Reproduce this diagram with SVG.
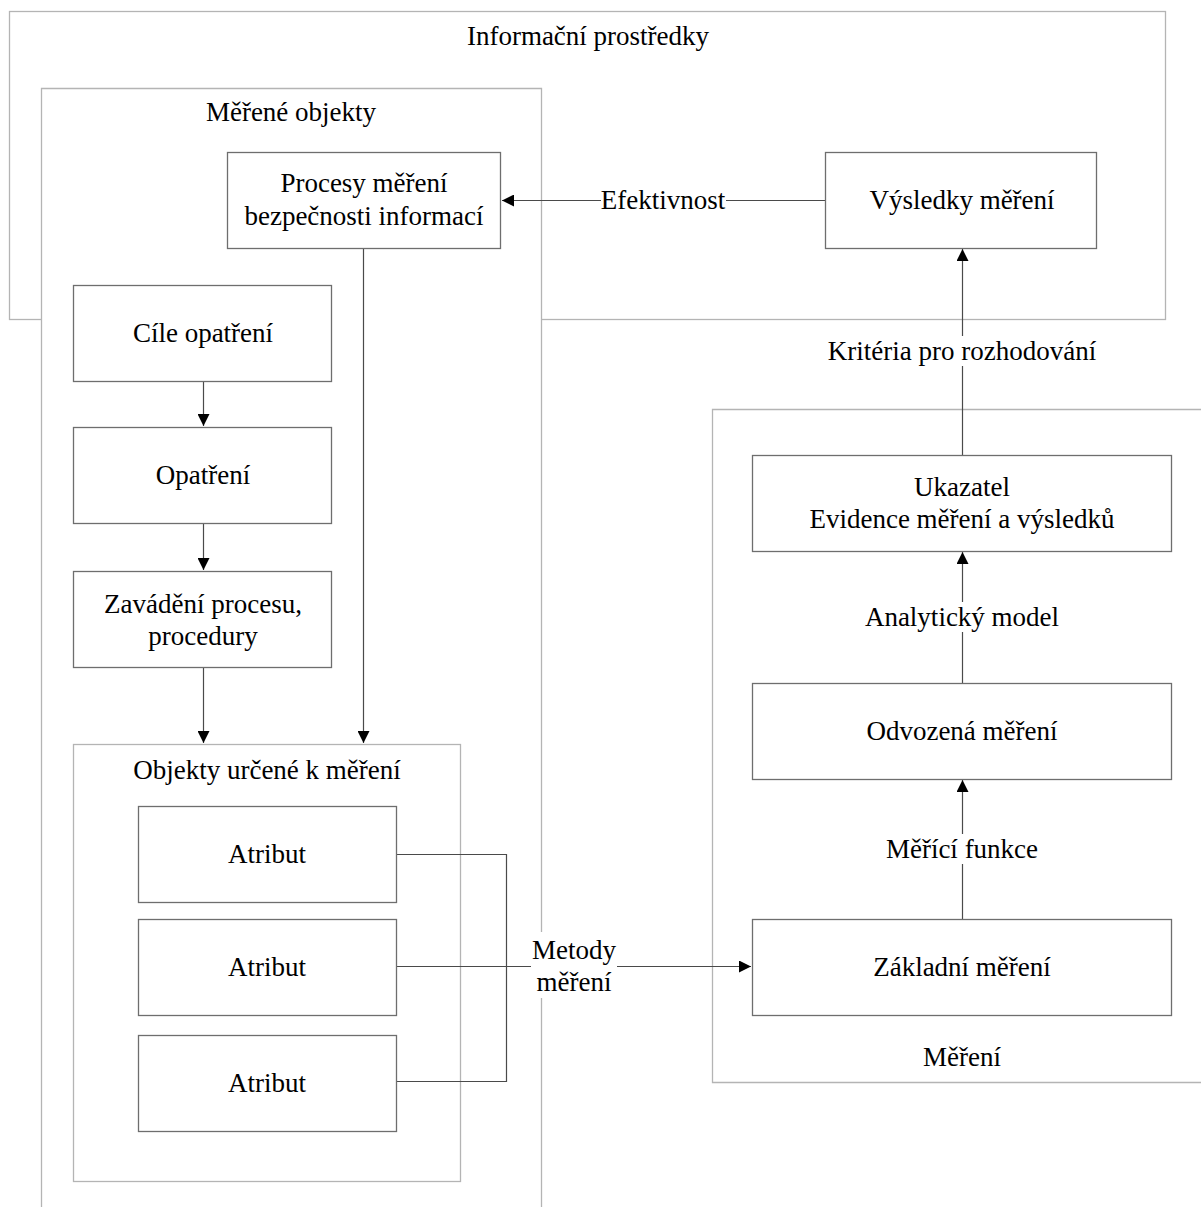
<svg xmlns="http://www.w3.org/2000/svg" width="1201" height="1207" viewBox="0 0 1201 1207">
  <style>
    text { font-family: "Liberation Serif", "Times New Roman", serif; font-size: 27px; fill: #000; text-anchor: middle; }
    .frame { fill: none; stroke: #b4b4b4; stroke-width: 1.3; }
    .box { fill: #fff; stroke: #6e6e6e; stroke-width: 1.3; }
    .wire { fill: none; stroke: #4a4a4a; stroke-width: 1.2; }
    .lbl { fill: #fff; stroke: none; }
  </style>
  <defs>
    <marker id="arrow" viewBox="0 0 10 10" refX="10" refY="5" markerWidth="12" markerHeight="12" markerUnits="userSpaceOnUse" orient="auto">
      <path d="M0,0 L10,5 L0,10 Z" fill="#000"/>
    </marker>
  </defs>

  <rect width="1201" height="1207" fill="#fff"/>

  <!-- outer frames -->
  <g id="informacni-prostredky">
    <rect class="frame" x="9.5" y="11.5" width="1156" height="308"/>
    <text x="588" y="45">Informační prostředky</text>
  </g>
  <g id="merene-objekty">
    <rect x="41" y="88" width="500" height="1130" fill="#fff"/>
    <path class="frame" d="M41.5,1210 V88.5 H541.5 V1210"/>
    <text x="291" y="121">Měřené objekty</text>
  </g>
  <g id="mereni">
    <path class="frame" d="M1205,409.5 H712.5 V1082.5 H1205"/>
    <text x="962" y="1066">Měření</text>
  </g>
  <g id="objekty-k-mereni">
    <rect class="frame" x="73.5" y="744.5" width="387" height="437"/>
    <text x="267" y="779">Objekty určené k měření</text>
  </g>

  <!-- connectors -->
  <g id="connectors">
    <path class="wire" d="M825,200.5 H502" marker-end="url(#arrow)"/>
    <path class="wire" d="M363.5,248 V743" marker-end="url(#arrow)"/>
    <path class="wire" d="M203.5,381 V426" marker-end="url(#arrow)"/>
    <path class="wire" d="M203.5,523 V570" marker-end="url(#arrow)"/>
    <path class="wire" d="M203.5,667 V743" marker-end="url(#arrow)"/>
    <path class="wire" d="M396,854.5 H506.5 V1081.5 H396"/>
    <path class="wire" d="M396,966.5 H751" marker-end="url(#arrow)"/>
    <path class="wire" d="M962.5,919 V780" marker-end="url(#arrow)"/>
    <path class="wire" d="M962.5,683 V552" marker-end="url(#arrow)"/>
    <path class="wire" d="M962.5,455 V249" marker-end="url(#arrow)"/>

    <rect class="lbl" x="601" y="186" width="125" height="28"/>
    <text x="663" y="209">Efektivnost</text>
    <rect class="lbl" x="531" y="932" width="86" height="66"/>
    <text x="574" y="959">Metody</text>
    <text x="574" y="991">měření</text>
    <rect class="lbl" x="884" y="834" width="156" height="30"/>
    <text x="962" y="858">Měřící funkce</text>
    <rect class="lbl" x="864" y="602" width="196" height="30"/>
    <text x="962" y="626">Analytický model</text>
    <rect class="lbl" x="826" y="336" width="273" height="30"/>
    <text x="962" y="360">Kritéria pro rozhodování</text>
  </g>

  <!-- nodes -->
  <g id="procesy">
    <rect class="box" x="227.5" y="152.5" width="273" height="96"/>
    <text x="364" y="192">Procesy měření</text>
    <text x="364" y="225">bezpečnosti informací</text>
  </g>
  <g id="vysledky">
    <rect class="box" x="825.5" y="152.5" width="271" height="96"/>
    <text x="962" y="209">Výsledky měření</text>
  </g>
  <g id="cile">
    <rect class="box" x="73.5" y="285.5" width="258" height="96"/>
    <text x="203" y="342">Cíle opatření</text>
  </g>
  <g id="opatreni">
    <rect class="box" x="73.5" y="427.5" width="258" height="96"/>
    <text x="203" y="484">Opatření</text>
  </g>
  <g id="zavadeni">
    <rect class="box" x="73.5" y="571.5" width="258" height="96"/>
    <text x="203" y="613">Zavádění procesu,</text>
    <text x="203" y="645">procedury</text>
  </g>
  <g id="atribut-1">
    <rect class="box" x="138.5" y="806.5" width="258" height="96"/>
    <text x="267" y="863">Atribut</text>
  </g>
  <g id="atribut-2">
    <rect class="box" x="138.5" y="919.5" width="258" height="96"/>
    <text x="267" y="976">Atribut</text>
  </g>
  <g id="atribut-3">
    <rect class="box" x="138.5" y="1035.5" width="258" height="96"/>
    <text x="267" y="1092">Atribut</text>
  </g>
  <g id="ukazatel">
    <rect class="box" x="752.5" y="455.5" width="419" height="96"/>
    <text x="962" y="496">Ukazatel</text>
    <text x="962" y="528">Evidence měření a výsledků</text>
  </g>
  <g id="odvozena">
    <rect class="box" x="752.5" y="683.5" width="419" height="96"/>
    <text x="962" y="740">Odvozená měření</text>
  </g>
  <g id="zakladni">
    <rect class="box" x="752.5" y="919.5" width="419" height="96"/>
    <text x="962" y="976">Základní měření</text>
  </g>
</svg>
